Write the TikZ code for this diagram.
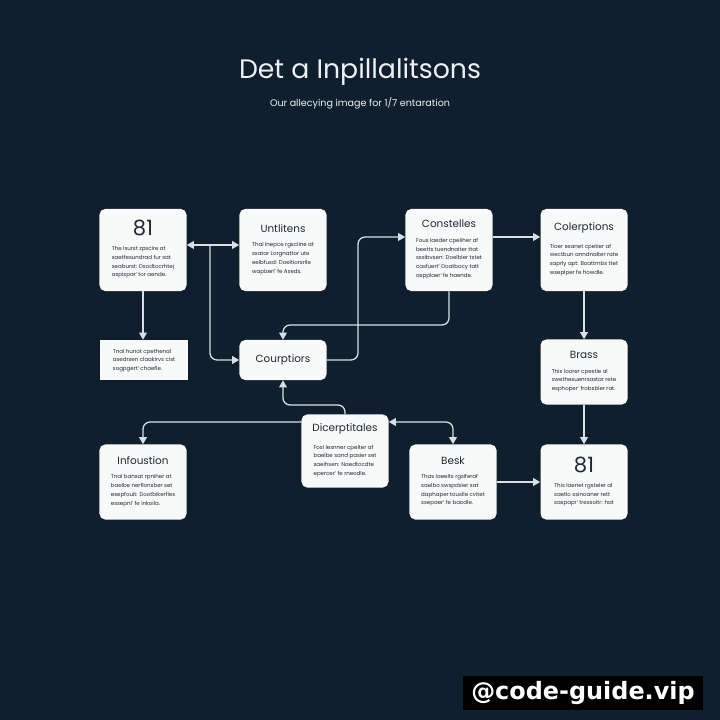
\documentclass[tikz,border=0pt]{standalone}
\usepackage{fontspec}
\setmainfont{Poppins}
\newfontfamily\markfont{DejaVu Sans}
\usetikzlibrary{arrows.meta}

\definecolor{dgBack}{HTML}{0F1F2D}
\definecolor{dgCard}{HTML}{F8F9F9}
\definecolor{dgInk}{HTML}{1E2A33}
\definecolor{dgLine}{HTML}{D8E0E6}
\definecolor{dgHead}{HTML}{EEF2F5}

\newcommand{\cardtitle}{\fontsize{7.4}{9}\selectfont}
\newcommand{\cardnum}{\fontsize{15}{17}\selectfont}
\newcommand{\cardbody}{\fontsize{3.9}{6.2}\selectfont}
\newcommand{\cardtext}[2]{#1\\[5pt]{\cardbody\begin{tabular}{@{}l@{}}#2\end{tabular}}}

\begin{document}
\begin{tikzpicture}[x=0.025cm,y=-0.025cm,
                    card/.style={draw=none,fill=dgCard,text=dgInk,align=center,
                                 rounded corners=4pt,inner sep=0pt,
                                 minimum width=2.175cm,minimum height=2.05cm},
                    note/.style={card,rounded corners=0pt},
                    flow/.style={draw=dgLine,line width=0.9pt,rounded corners=5pt,
                                 -{Triangle[length=5pt,width=5.5pt]}},
                    dflow/.style={flow,{Triangle[length=5pt,width=5.5pt]}-{Triangle[length=5pt,width=5.5pt]}}]
  \fill[dgBack] (0,0) rectangle (720,720);
  \useasboundingbox (0,0) rectangle (720,720);

  % heading
  \node[text=dgHead,font=\fontsize{19}{22}\selectfont] (title) at (360,72) {Det a Inpillalitsons};
  \node[text=dgHead!85,font=\fontsize{6.8}{8}\selectfont] (subtitle) at (360,103) {Our allecying image for 1/7 entaration};

  % top row
  \node[card] (first) at (143,250) {\cardtext{\cardnum 81}{The lsurst zpsclre at\\saetfesundrad fur sat\\seaburst: Dsodtocrhtej\\aspispar' tor aende.}};
  \node[card] (untl) at (283,250) {\cardtext{\cardtitle Untlitens}{Thal lnepce rgsciine at\\ssatar Lorgnattor ute\\eelbfusd: Doeltiorsrile\\waplzerl' fe Aseds.}};
  \node[card] (const) at (449,250) {\cardtext{\cardtitle Constelles}{Fous laeder cpeliher af\\beetts tuendnaiter ttat\\sssibvsen: Doelbler tstet\\casfuert' Doatbocy tatt\\aspplaer' fe haende.}};
  \node[card] (coler) at (584,250) {\cardtext{\cardtitle Colerptions}{Tioer seanet cpetier af\\wectbun anndnalter rate\\saprly apt: Boattrnbs ttet\\wseplper fe howdle.}};

  % middle row
  \node[note,minimum height=1cm] (memo) at (144,360) {{\cardbody\begin{tabular}{@{}l@{}}Tnal hunot cpethenal\\asedrsen claakirvs cist\\sogpgert' chaefle.\end{tabular}}};
  \node[card,minimum height=1cm] (courp) at (283,360) {\cardtitle Courptiors};
  \node[card,minimum height=1.625cm] (brass) at (584,372) {\cardtext{\cardtitle Brass}{This loorer cpestie al\\swethesuenrsastar rete\\esphoper' frobsbler rat.}};

  % bottom row
  \node[card,minimum height=1.875cm] (infou) at (143,482) {\cardtext{\cardtitle Infoustion}{Tnal bansat rpniher at\\baelbe nerflonsber set\\esepfouit: Dootbikerfles\\essepnl' fe inkoila.}};
  \node[card,minimum height=1.825cm] (dicer) at (345,451) {\cardtext{\cardtitle Dicerptitales}{Fosl lesnner cpelter af\\baelbe sand pasier set\\saeihsen: Naedtocdte\\epercer' fe rneodle.}};
  \node[card,minimum height=1.875cm] (besk) at (453,482) {\cardtext{\cardtitle Besk}{Thas laeelts rgsiferaf\\saelbo swspdsier sat\\daphaper touslle cvitet\\ssepaer' fe baodle.}};
  \node[card,minimum height=1.875cm] (last) at (584,482) {\cardtext{\cardnum 81}{This laenet rgsteler al\\saetlo ssinoaner rett\\saspapr' tressoitr: hat}};

  % bends
  \coordinate (ab) at (210,245);
  \coordinate (fc) at (358,237);
  \coordinate (cf) at (0,325);
  \coordinate (ic) at (0,405);
  \coordinate (ih) at (0,422);

  \draw[flow] (first.south) -- (first.south |- memo.north);
  \draw[dflow] (first.east |- ab) -- (untl.west |- ab);
  \draw[flow] (ab) |- (courp.west);
  \draw[flow] (courp.east) -| (fc) -- (const.west |- fc);
  \draw[flow] (const.south) -- (const.south |- cf) -| (courp.north);
  \draw[flow] (const.east |- fc) -- (coler.west |- fc);
  \draw[flow] (coler.south) -- (brass.north);
  \draw[flow] (brass.south) -- (last.north);
  \draw[flow] (dicer.north) -- (dicer.north |- ic) -| (courp.south);
  \draw[flow] (dicer.west |- ih) -| (infou.north);
  \draw[dflow] (dicer.east |- ih) -| (besk.north);
  \draw[flow] (besk.east) -- (last.west);

  % watermark
  \node[fill=black,text=white,inner xsep=6pt,minimum height=0.85cm,
        font=\markfont\bfseries\fontsize{17}{20}\selectfont] (mark) at (583,693) {@code-guide.vip};
\end{tikzpicture}
\end{document}
